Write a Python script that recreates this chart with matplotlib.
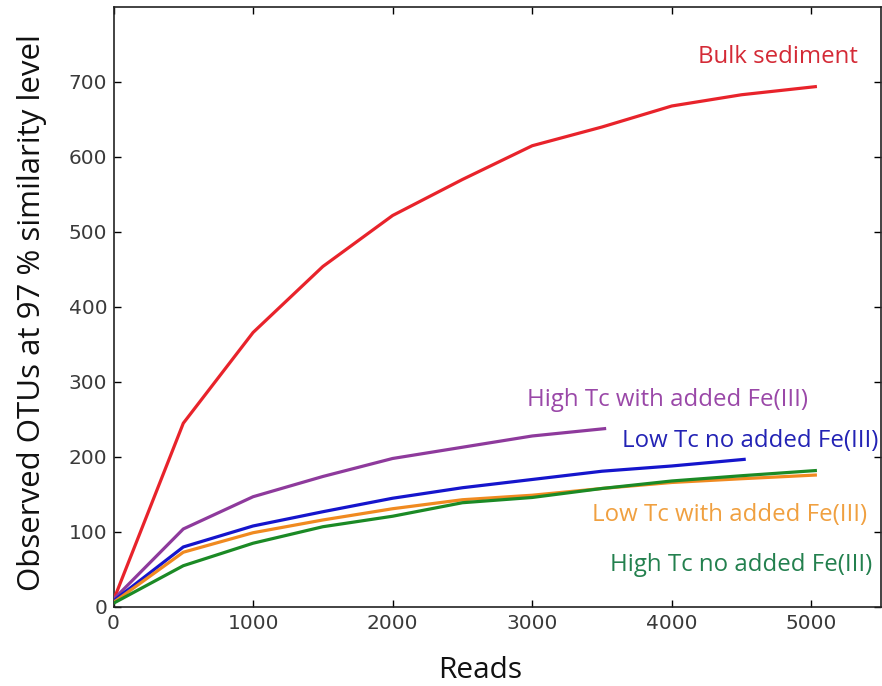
import matplotlib
matplotlib.use("Agg")
import matplotlib.pyplot as plt

# Rarefaction curves: observed OTUs vs number of reads
reads_full = [0, 500, 1000, 1500, 2000, 2500, 3000, 3500, 4000, 4500, 5040]
reads_purple = [0, 500, 1000, 1500, 2000, 2500, 3000, 3530]
reads_blue = [0, 500, 1000, 1500, 2000, 2500, 3000, 3500, 4000, 4530]

bulk_sediment = [9, 245, 366, 454, 522, 570, 615, 640, 668, 683, 694]
high_tc_with_fe = [10, 104, 147, 174, 198, 213, 228, 238]
low_tc_no_fe = [8, 80, 108, 127, 145, 159, 170, 181, 188, 197]
low_tc_with_fe = [6, 73, 99, 116, 131, 143, 149, 158, 166, 171, 176]
high_tc_no_fe = [5, 55, 85, 107, 121, 139, 146, 158, 168, 175, 182]

series_labels = ["Bulk sediment", "High Tc with added Fe(III)", "Low Tc no added Fe(III)",
                 "Low Tc with added Fe(III)", "High Tc no added Fe(III)"]

line_colors = ["#e8232b", "#8e3a9c", "#1515cc", "#f08a20", "#1b8a25"]
text_colors = ["#d42a36", "#9a48a8", "#2323b5", "#f0a040", "#23804e"]
label_pos = [(4190, 733), (2960, 276), (3640, 221), (3430, 123), (3560, 56)]

fig = plt.figure(figsize=(8.82, 6.86), dpi=100)
ax = fig.add_axes([0.1287, 0.1152, 0.8703, 0.8746])

xs = [reads_full, reads_purple, reads_blue, reads_full, reads_full]
ys = [bulk_sediment, high_tc_with_fe, low_tc_no_fe, low_tc_with_fe, high_tc_no_fe]
for i in range(len(ys)):
    ax.plot(xs[i], ys[i], color=line_colors[i], lw=2.3, solid_capstyle="butt", zorder=3)

for lab, col, (px, py) in zip(series_labels, text_colors, label_pos):
    ax.text(px, py, lab, color=col, fontsize=17.3, family="Open Sans",
            ha="left", va="center")

ax.set_xlim(0, 5500)
ax.set_ylim(0, 800)
ax.set_xticks([0, 1000, 2000, 3000, 4000, 5000])
ax.set_yticks([0, 100, 200, 300, 400, 500, 600, 700])
ax.tick_params(direction="in", length=5, width=1, top=True, right=True,
               labelsize=14.5, labelcolor="#3a3a3a", pad=5)
ax.tick_params(axis="y", pad=4.5)
for s in ax.spines.values():
    s.set_linewidth(1.2)
    s.set_color("#222222")

ax.set_xlabel("Reads", fontsize=21.5, family="Open Sans", color="#111111")
ax.xaxis.set_label_coords(0.4775, -0.081)
ax.set_ylabel("Observed OTUs at 97 % similarity level", fontsize=22.5,
              family="Open Sans", color="#111111")
ax.yaxis.set_label_coords(-0.087, 0.49)

fig.savefig("out.png", dpi=100)
